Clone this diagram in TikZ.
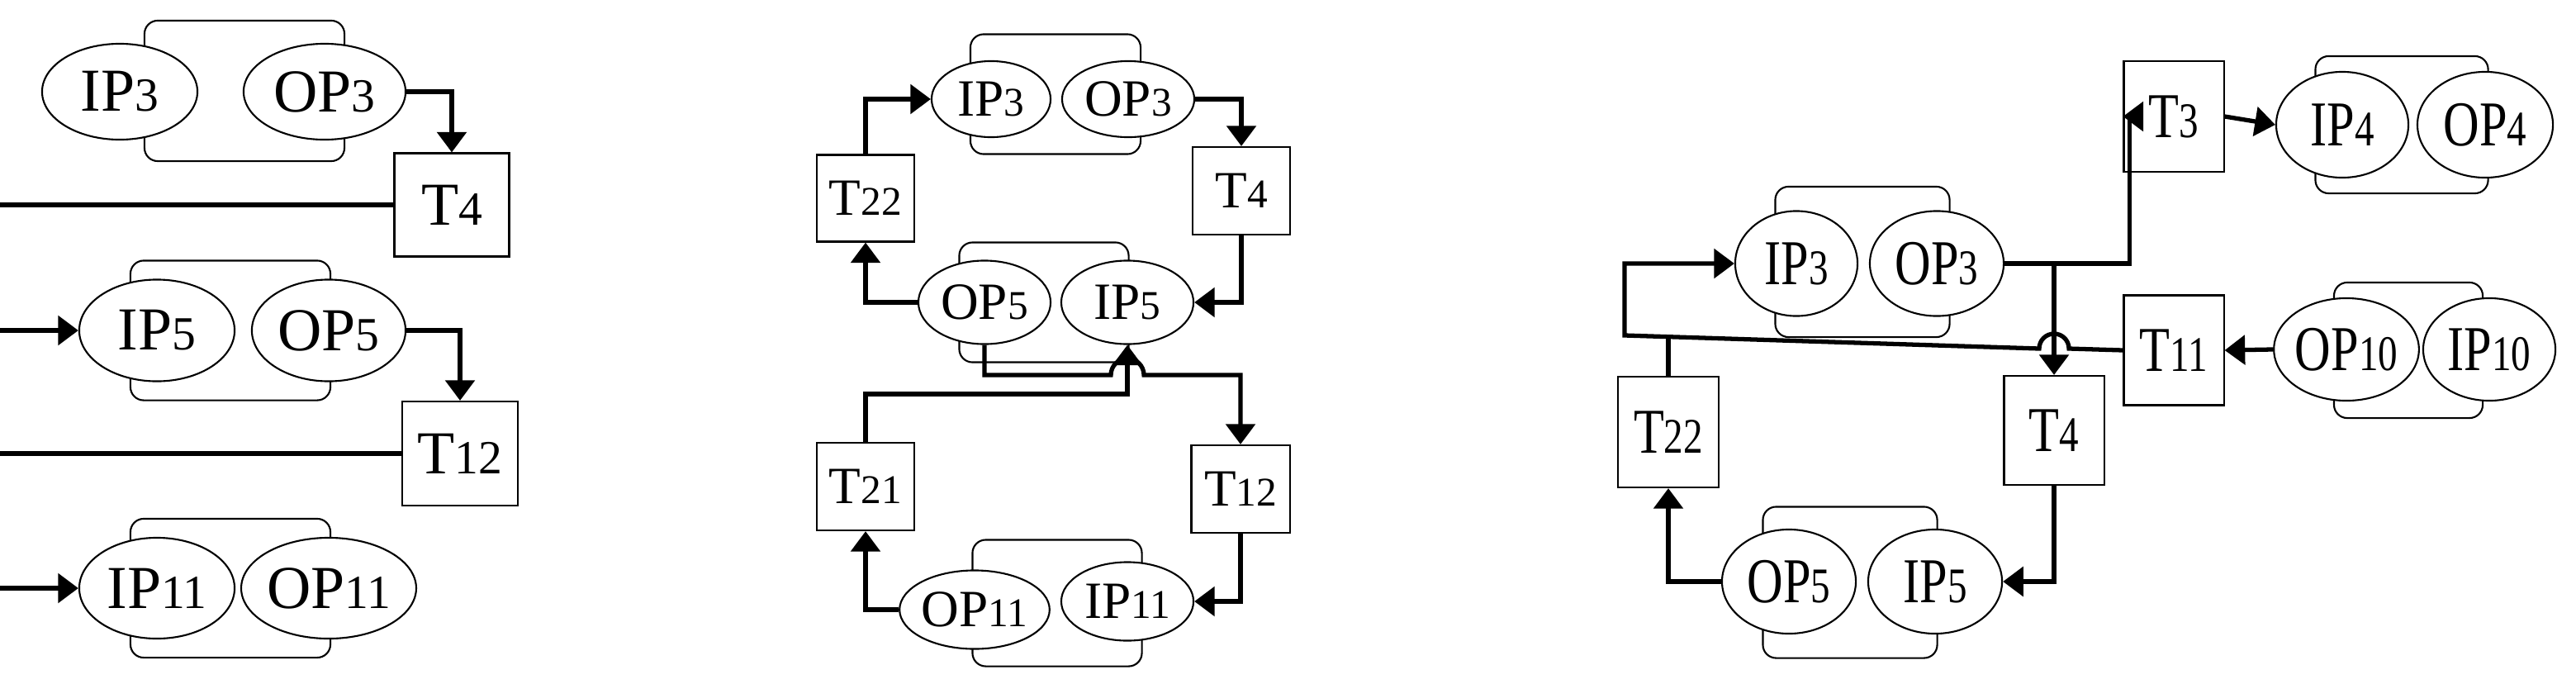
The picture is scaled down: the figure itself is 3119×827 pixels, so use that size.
\documentclass[tikz,border=0pt]{standalone}
\usepackage{fontspec}
\setmainfont{Liberation Serif}
\usepackage{graphicx}
\usetikzlibrary{shapes.geometric,arrows.meta}
\newcommand\dg[1]{\scalebox{0.78}{#1}}
\begin{document}
\begin{tikzpicture}[x=0.01cm,y=-0.01cm,
  el/.style={ellipse,draw,line width=0.6pt,fill=white,inner sep=0pt},
  br/.style={draw,line width=0.6pt,rounded corners=0.16cm,inner sep=0pt},
  bx/.style={draw,line width=0.6pt,inner sep=0pt},
  fA/.style={font=\fontsize{21}{24}\selectfont},
  fB/.style={font=\fontsize{18}{21}\selectfont},
  fC/.style={font=\fontsize{22}{25}\selectfont},
  ln/.style={line width=1.5pt},
  ar/.style={line width=1.5pt,-{Triangle[width=10pt,length=7pt]}}]
\useasboundingbox (0,0) rectangle (3119,827);
% ---------- panel 1 ----------
\node[br,minimum width=2.42cm,minimum height=1.70cm] (b1) at (296,110) {};
\node[el,fA,minimum width=1.88cm,minimum height=1.16cm] (aIP3) at (145,111) {IP\dg{3}};
\node[el,fA,minimum width=1.96cm,minimum height=1.16cm] (aOP3) at (393,111) {OP\dg{3}};
\node[bx,fA,minimum width=1.39cm,minimum height=1.25cm] (aT4) at (547,248) {T\dg{4}};
\node[br,minimum width=2.42cm,minimum height=1.69cm] (b2) at (279,400) {};
\node[el,fA,minimum width=1.88cm,minimum height=1.23cm] (aIP5) at (190,400) {IP\dg{5}};
\node[el,fA,minimum width=1.86cm,minimum height=1.23cm] (aOP5) at (398,400) {OP\dg{5}};
\node[bx,fA,minimum width=1.40cm,minimum height=1.26cm] (aT12) at (557,549) {T\dg{12}};
\node[br,minimum width=2.42cm,minimum height=1.68cm] (b3) at (279,712) {};
\node[el,fA,minimum width=1.88cm,minimum height=1.22cm] (aIP11) at (190,712) {IP\dg{11}};
\node[el,fA,minimum width=1.86cm,minimum height=1.22cm] (aOP11) at (398,712) {OP\dg{11}};
\draw[ar] (aOP3.east) -| (aT4.north);
\draw[ar] (aT4.west) -- ++(-519,0) |- (aIP5.west);
\draw[ar] (aOP5.east) -| (aT12.north);
\draw[ar] (aT12.west) -- ++(-527,0) |- (aIP11.west);
% ---------- panel 2 ----------
\node[br,minimum width=2.06cm,minimum height=1.45cm] (c1) at (1278,114) {};
\node[el,fB,minimum width=1.44cm,minimum height=0.92cm] (bIP3) at (1200,120) {IP\dg{3}};
\node[el,fB,minimum width=1.60cm,minimum height=0.92cm] (bOP3) at (1366,120) {OP\dg{3}};
\node[bx,fB,minimum width=1.18cm,minimum height=1.06cm] (bT4) at (1503,231) {T\dg{4}};
\node[bx,fB,minimum width=1.18cm,minimum height=1.05cm] (bT22) at (1048,240) {T\dg{22}};
\node[br,minimum width=2.05cm,minimum height=1.45cm] (c2) at (1264,366) {};
\node[el,fB,minimum width=1.60cm,minimum height=1.01cm] (bOP5) at (1192,366) {OP\dg{5}};
\node[el,fB,minimum width=1.60cm,minimum height=1.01cm] (bIP5) at (1365,366) {IP\dg{5}};
\node[bx,fB,minimum width=1.18cm,minimum height=1.06cm] (bT21) at (1048,589) {T\dg{21}};
\node[bx,fB,minimum width=1.19cm,minimum height=1.06cm] (bT12) at (1502,592) {T\dg{12}};
\node[br,minimum width=2.05cm,minimum height=1.53cm] (c3) at (1280,730) {};
\node[el,fB,minimum width=1.59cm,minimum height=0.95cm] (bOP11) at (1180,738) {OP\dg{11}};
\node[el,fB,minimum width=1.60cm,minimum height=0.95cm] (bIP11) at (1365,728) {IP\dg{11}};
\draw[ar] (bT22.north) |- (bIP3.west);
\draw[ar] (bOP3.east) -| (bT4.north);
\draw[ar] (bT4.south) |- (bIP5.east);
\draw[ar] (bOP5.west) -| (bT22.south);
\draw[ar] (bT12.south) |- (bIP11.east);
\draw[ar] (bOP11.west) -| (bT21.south);
\coordinate (hL) at (1345,454);
\coordinate (vB) at (1365,477);
\draw[ar] (bOP5.south) |- (hL) arc[start angle=180,end angle=0,radius=0.2cm] -| (bT12.north);
\draw[ar] (bT21.north) |- (vB) -- (bIP5.south);
% ---------- panel 3 ----------
\node[br,minimum width=2.11cm,minimum height=1.82cm] (d1) at (2255,317) {};
\node[el,fC,minimum width=1.48cm,minimum height=1.27cm] (cIP3) at (2175,319) {\scalebox{0.78}[1]{IP\dg{3}}};
\node[el,fC,minimum width=1.62cm,minimum height=1.27cm] (cOP3) at (2345,319) {\scalebox{0.78}[1]{OP\dg{3}}};
\node[bx,fC,minimum width=1.22cm,minimum height=1.34cm] (cT22) at (2020,523) {\scalebox{0.78}[1]{T\dg{22}}};
\node[bx,fC,minimum width=1.21cm,minimum height=1.32cm] (cT4) at (2487,521) {\scalebox{0.78}[1]{T\dg{4}}};
\node[br,minimum width=2.11cm,minimum height=1.83cm] (d2) at (2240,705) {};
\node[el,fC,minimum width=1.62cm,minimum height=1.26cm] (cOP5) at (2166,704) {\scalebox{0.78}[1]{OP\dg{5}}};
\node[el,fC,minimum width=1.62cm,minimum height=1.26cm] (cIP5) at (2343,704) {\scalebox{0.78}[1]{IP\dg{5}}};
\node[bx,fC,minimum width=1.21cm,minimum height=1.34cm] (cT3) at (2632,141) {\scalebox{0.78}[1]{T\dg{3}}};
\node[br,minimum width=2.09cm,minimum height=1.66cm] (d3) at (2908,151) {};
\node[el,fC,minimum width=1.60cm,minimum height=1.28cm] (cIP4) at (2836,151) {\scalebox{0.78}[1]{IP\dg{4}}};
\node[el,fC,minimum width=1.64cm,minimum height=1.28cm] (cOP4) at (3009,151) {\scalebox{0.78}[1]{OP\dg{4}}};
\node[bx,fC,minimum width=1.21cm,minimum height=1.33cm] (cT11) at (2632,424) {\scalebox{0.78}[1]{T\dg{11}}};
\node[br,minimum width=1.80cm,minimum height=1.64cm] (d4) at (2916,424) {};
\node[el,fC,minimum width=1.60cm,minimum height=1.24cm] (cOP10) at (2841,423) {\scalebox{0.78}[1]{OP\dg{10}}};
\node[el,fC,minimum width=1.60cm,minimum height=1.24cm] (cIP10) at (3014,423) {\scalebox{0.78}[1]{IP\dg{10}}};
\coordinate (J3) at (cT4.north |- cOP3.east);
\coordinate (hR) at (2505,422);
\coordinate (sL) at (1967,406);
\coordinate (sT) at (2020,408);
\draw[ar] (cOP3.east) -- ++(151,0) |- (cT3.west);
\draw[ar] (J3) -- (cT4.north);
\draw[ar] (cT3.east) -- (cIP4.west);
\draw[ar] (cOP10.west) -- (cT11.east);
\draw[ar] (cT11.west) -- (hR) arc[start angle=0,end angle=180,radius=0.18cm] -- (sL) |- (cIP3.west);
\draw[ln] (cT22.north) -- (sT);
\draw[ar] (cT4.south) |- (cIP5.east);
\draw[ar] (cOP5.west) -| (cT22.south);
\end{tikzpicture}
\end{document}
